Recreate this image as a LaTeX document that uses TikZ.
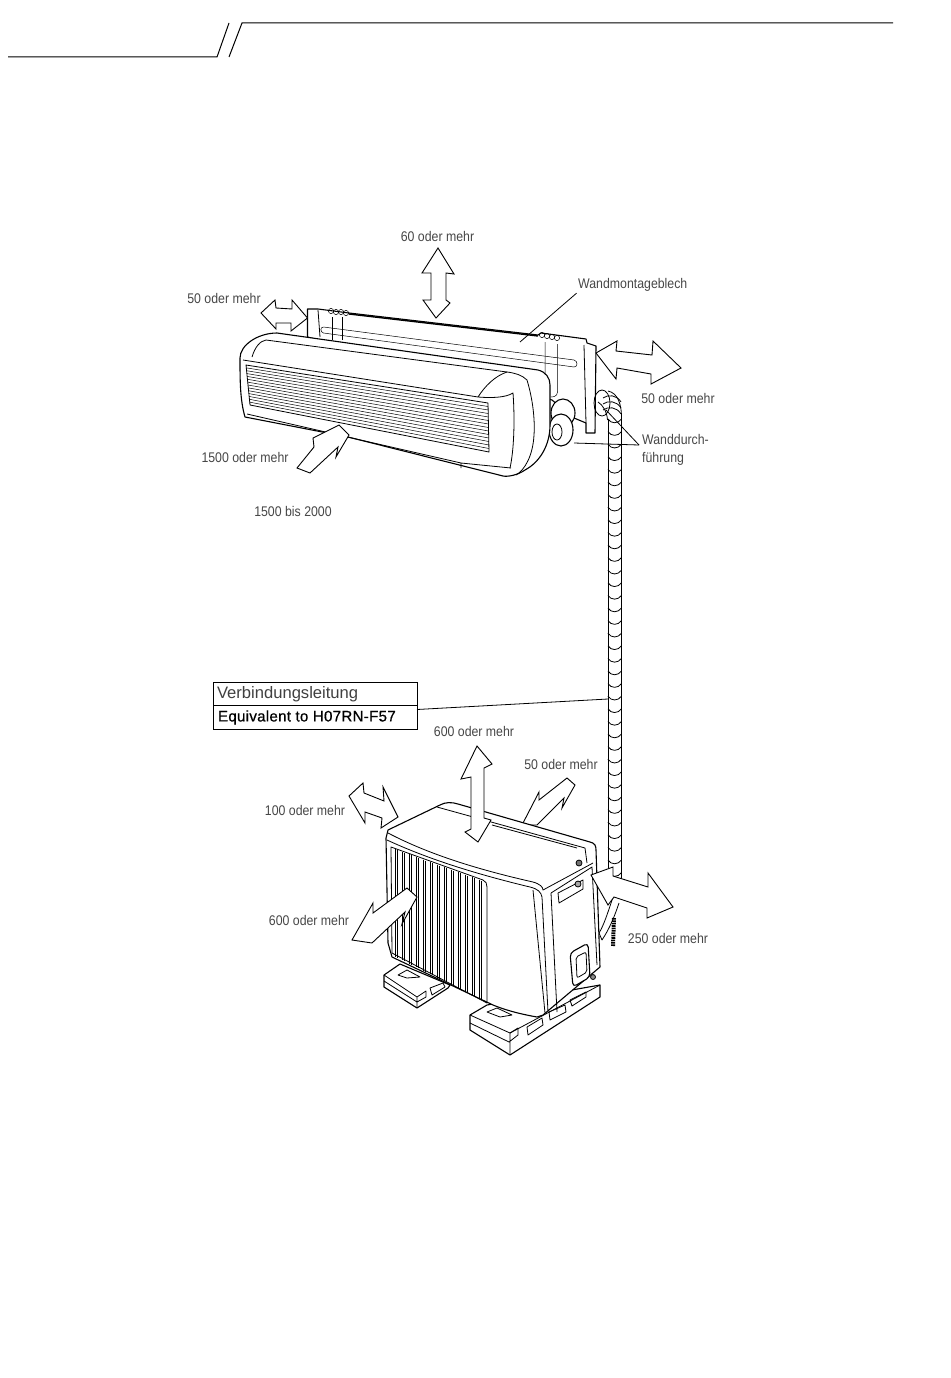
\documentclass[tikz,border=0pt]{standalone}
\usepackage{fontspec}
\usetikzlibrary{positioning,calc}
\newfontfamily\dimfont[FakeStretch=0.88]{Liberation Sans}
\newfontfamily\titlefont{Liberation Sans}
\newfontfamily\typefont[FakeBold=0.6,LetterSpace=1.5]{Liberation Sans}
\tikzset{
  dimlabel/.style={inner sep=0pt,text=black!72,font=\dimfont\fontsize{14}{18}\selectfont},
  leader/.style={line width=.8pt},
  gaparrow/.style={draw,fill=white,line width=.9pt,line join=miter},
  part/.style={draw,fill=white,line width=1.1pt,line join=round},
  edge/.style={line width=.8pt,line join=round},
  fine/.style={line width=.5pt},
  cablebox/.style={draw,line width=.7pt,minimum width=204pt,minimum height=23.5pt,inner sep=0pt,outer sep=0pt}
}
\begin{document}
\begin{tikzpicture}[x=1pt,y=-1pt]
\useasboundingbox[fill=white] (0,0) rectangle (950,1378);
% page head
\draw[line width=1pt] (8,57) -- (217,57) -- (229,23);
\draw[line width=1pt] (229,57) -- (242,23) -- (893,23);
% wall plate
\draw[part] (307.5,309) -- (318,309) -- (349,313) -- (538,335) -- (541,333) -- (586,339) -- (587,343) -- (596,346)
  -- (595,433) -- (586,433) -- (586,423) -- (574,418) -- (552,400) -- (307.5,337) -- cycle;
\draw[line width=1.4pt] (349,314) -- (538,336);
\draw[edge] (318,310) -- (320,337) (584,345) -- (586,423);
\draw[fine] (323.5,327) -- (574,360) .. controls (578,361) and (578,367) .. (574,367) -- (323.5,333) .. controls (320,332) and (320,327) .. (323.5,327);
\draw[fine] (332.5,317) -- (332.5,340) (342,317) -- (342,340);
\draw[fine] (545,342) -- (545,393) (557.5,344) -- (557.5,392) .. controls (557.5,397) and (552,397) .. (551,397);
\foreach \hx/\hy in {331/311,336/312,341/312,346/313,542/335,547/336,552/337,557/338}
  \draw[fine] (\hx,\hy) circle[radius=2.6];
% sleeve and pipe ends
\draw[part] (563,413) ellipse[x radius=12,y radius=14];
\draw[part] (561,430) ellipse[x radius=12,y radius=16];
\draw[edge] (557,432) ellipse[x radius=5,y radius=8];
\draw[edge] (602,403) ellipse[x radius=8,y radius=13];
% indoor unit
\draw[part] (240,358) .. controls (240,345) and (258,333) .. (277,333) -- (538,370)
  .. controls (546,372) and (550,378) .. (550,385) -- (550,425)
  .. controls (550,445) and (540,462) .. (525,470) .. controls (518,475) and (508,477) .. (503,476)
  -- (348,437) -- (245,417) .. controls (240,400) and (240,380) .. (240,358) -- cycle;
\draw[edge] (252,357) .. controls (255,347) and (260,341) .. (266,340) -- (507,372)
  .. controls (515,373) and (522,375) .. (527,380) .. controls (533,400) and (535,420) .. (534,435)
  .. controls (533,455) and (525,470) .. (516,475);
\draw[edge] (243,360) -- (478,397) .. controls (490,398) and (505,398) .. (513,393)
  .. controls (515,420) and (514,450) .. (510,468);
\draw[edge] (507,372) .. controls (495,376) and (485,386) .. (478,397);
\draw[edge] (247,414) -- (461,463) -- (511,468) (461,463) -- (461,468);
\coordinate (grilleNW) at (246,365);
\coordinate (grilleNE) at (488,403);
\coordinate (grilleSE) at (489,452);
\coordinate (grilleSW) at (250,405);
\draw[edge] (grilleNW) -- (grilleNE) -- (grilleSE) -- (grilleSW) -- cycle;
\foreach \i [evaluate=\i as \t using \i/14] in {1,...,13}
  \draw[fine] ($(grilleNW)!\t!(grilleSW)$) -- ($(grilleNE)!\t!(grilleSE)$);
% hose
\draw[edge] (607.5,420) .. controls (607,412) and (603,405) .. (598,402);
\draw[edge] (608,391) .. controls (618,393) and (622,405) .. (621.5,420);
\draw[edge] (608,420) -- (608,900) (621.5,420) -- (621.5,900);
\foreach \hy in {0,...,37}
  \draw[edge] (608,419+12.6*\hy) .. controls (611,424+12.6*\hy) and (618,424+12.6*\hy) .. (621.5,419+12.6*\hy);
\foreach \hy in {398,404,410}
  \draw[edge] (603,\hy) .. controls (608,\hy-4) and (617,\hy-3) .. (621,\hy+4);
\draw[edge,fill=white] (613,897) .. controls (608,912) and (604,925) .. (599,933) -- (602,940) .. controls (610,928) and (615,915) .. (619,903);
\draw[line width=4pt,dash pattern=on 1.6pt off .8pt] (614,918) -- (613,946);
% rear clearance arrow goes behind the outdoor unit
\draw[gaparrow] (522,825) -- (539,792) -- (539,800) -- (567,778) -- (575,785) -- (562,808) -- (564,798) -- (537,825) -- cycle;
% pads
\draw[part] (384,975) -- (400,964) -- (450,985) -- (448,988) -- (417,1008) -- (384,987) -- cycle;
\draw[edge] (384,975) -- (417,997) -- (417,1008) (384,981) -- (417,1002) -- (426,997) -- (426,991) -- (417,997);
\draw[edge] (398,975) -- (407,970) -- (420,977) -- (407,978) -- cycle;
\draw[edge] (430,988) -- (443,983) -- (445,987) -- (432,995) -- cycle;
\draw[part] (470,1015) -- (487,1005) -- (600,985) -- (600,997) -- (510,1055) -- (470,1030) -- cycle;
\draw[edge] (470,1015) -- (510,1033) -- (510,1055) (470,1023) -- (509,1042) -- (518,1035) -- (518,1028) -- (510,1033);
\draw[edge] (510,1033) -- (600,985);
\draw[edge] (487,1012) -- (497,1008) -- (512,1015) -- (500,1017) -- cycle;
\draw[edge] (527,1027) -- (542,1018) -- (543,1025) -- (528,1035) -- cycle;
\draw[edge] (549,1012) -- (565,1005) -- (566,1012) -- (550,1020) -- cycle;
\draw[edge] (570,1000) -- (586,992) -- (586,997) -- (572,1006) -- cycle;
% outdoor unit
\draw[part] (388,830) -- (440,805) .. controls (445,802) and (452,802) .. (458,804) -- (590,842)
  .. controls (595,843) and (596,846) .. (596,850) -- (600,967) -- (543,1015) -- (537,1017)
  .. controls (520,1014) and (505,1010) .. (493,1005) -- (392,957) -- (388,943) -- (386,838) -- cycle;
\draw[edge] (437,807) -- (585,848) -- (587,863);
\draw[edge] (492,825) -- (577,848);
\draw[edge] (388,833) .. controls (430,855) and (480,870) .. (533,882) .. controls (540,884) and (543,887) .. (543,890) -- (593,863);
\draw[edge] (387,840) .. controls (430,860) and (480,875) .. (530,887) .. controls (538,889) and (541,892) .. (542,897) -- (548,1012);
\draw[edge] (533,890) -- (545,1013);
\draw[edge] (551,893) -- (592,867) -- (597,965);
\draw[edge] (551,893) -- (557,1012);
\draw[edge] (391,847) -- (483,880) .. controls (486,881) and (487,884) .. (487,887) -- (487,1003) -- (392,953) -- cycle;
\foreach \fx in {395,402,...,485} {
  \draw[fine] (\fx,{848+(\fx-391)*.36}) -- (\fx,{955+(\fx-392)*.505});
  \draw[fine] (\fx+2.4,{849+(\fx-391)*.36}) -- (\fx+2.4,{956+(\fx-392)*.505});
}
\draw[edge] (558,893) -- (583,880) -- (583,889) -- (559,903) -- cycle;
\draw[edge,fill=black!55] (579,863) circle[radius=3];
\draw[edge,fill=black!35] (578,884) circle[radius=3];
\draw[part,rounded corners=4pt] (570,953) -- (588,943) -- (590,977) -- (573,987) -- cycle;
\draw[edge,rounded corners=2pt] (576,957) -- (586,952) -- (587,972) -- (577,978) -- cycle;
\draw[edge,fill=black!45] (593,977) circle[radius=2.5];
% clearance arrows
\draw[gaparrow] (438,248) -- (454,274) -- (446,273) -- (446,300) -- (450,303) -- (436,318) -- (423,300) -- (431,300) -- (431,273) -- (422,273) -- cycle;
\draw[gaparrow] (261,313) -- (275,300) -- (276,308) -- (292,309) -- (292,300) -- (307.5,318) -- (291,331) -- (291,323) -- (276,323) -- (276,329) -- cycle;
\draw[gaparrow] (596,353) -- (617,341) -- (616,351) -- (652,355) -- (653,341) -- (681,368) -- (651,384) -- (651,374) -- (617,368) -- (616,379) -- cycle;
\draw[gaparrow] (339,425) -- (349,435) -- (336,457) -- (338,447) -- (310,473) -- (297,468) -- (314,447) -- (313,438) -- cycle;
\draw[gaparrow] (477,746) -- (492,764) -- (484,768) -- (484,818) -- (491,820) -- (478,842) -- (465,832) -- (471,829) -- (471,777) -- (461,779) -- cycle;
\draw[gaparrow] (349,796) -- (363,783) -- (364,793) -- (384,801) -- (383,787) -- (398,817) -- (381,828) -- (382,818) -- (365,812) -- (365,823) -- cycle;
\draw[gaparrow] (407,888) -- (417,897) -- (402,924) -- (405,912) -- (372,943) -- (352,940) -- (373,903) -- (373,913) -- cycle;
\draw[gaparrow] (591,875) -- (613,867) -- (613,876) -- (648,887) -- (648,873) -- (673,907) -- (647,918) -- (647,908) -- (614,897) -- (608,905) -- cycle;
% labels
\node[dimlabel] (topgap) at (437.5,236) {60 oder mehr};
\node[dimlabel] (leftgap) at (224,298) {50 oder mehr};
\node[dimlabel] (rightgap) at (678,398) {50 oder mehr};
\node[dimlabel] (frontgap) at (245,457) {1500 oder mehr};
\node[dimlabel] (unitheight) at (293,511) {1500 bis 2000};
\node[dimlabel] (outtopgap) at (474,731) {600 oder mehr};
\node[dimlabel] (outreargap) at (561,764) {50 oder mehr};
\node[dimlabel] (outleftgap) at (305,810) {100 oder mehr};
\node[dimlabel] (outfrontgap) at (309,920) {600 oder mehr};
\node[dimlabel] (outrightgap) at (668,938) {250 oder mehr};
\node[dimlabel,anchor=west,inner sep=1.5pt] (platelabel) at (576.5,285) {Wandmontageblech};
\node[dimlabel,anchor=west,align=left,inner sep=3pt] (sleevelabel) at (639,450) {Wanddurch-\\führung};
\coordinate (platetip) at (520,342);
\coordinate (sleevetipa) at (606,410);
\coordinate (sleevetipb) at (574,443);
\draw[leader] (platelabel.south west) -- (platetip);
\draw[leader] ([yshift=5pt]sleevelabel.west) -- (sleevetipa);
\draw[leader] ([yshift=5pt]sleevelabel.west) -- (sleevetipb);
% cable callout
\node[cablebox,text=black!75,font=\titlefont\fontsize{16.6}{20}\selectfont] (cabletitle) at (315,694) {\makebox[204pt][l]{\hspace*{4pt}\raisebox{-2pt}{Verbindungsleitung}}};
\node[cablebox,below=0pt of cabletitle,font=\typefont\fontsize{15.2}{18}\selectfont] (cabletype) {\makebox[204pt][l]{\hspace*{5pt}Equivalent to H07RN-F57}};
\coordinate (hosetap) at (608,699);
\draw[leader] ([yshift=8pt]cabletype.east) -- (hosetap);
\end{tikzpicture}
\end{document}
